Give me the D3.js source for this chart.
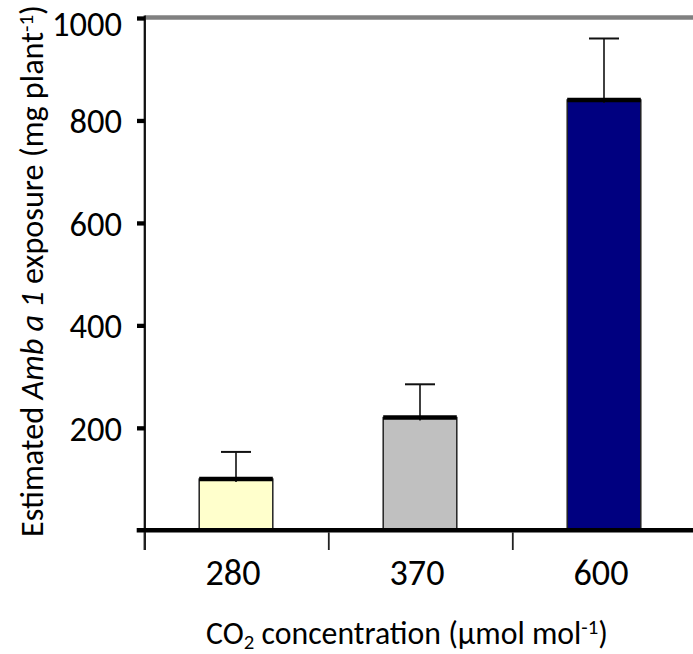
<!DOCTYPE html>
<html>
<head>
<meta charset="utf-8">
<script src="https://cdn.jsdelivr.net/npm/d3@7"></script>
<style>
  html, body { margin: 0; padding: 0; background: #fff; }
  svg { display: block; font-family: Carlito, Lato, "Open Sans", sans-serif; }
</style>
</head>
<body>
<svg id="chart" width="693" height="654"></svg>
<script>
// ---- data ----
const categories = ["280", "370", "600"];
const means = [100, 220, 840];
const upperErr = [153, 285, 960];
const barColors = ["#FFFFCC", "#C0C0C0", "#000080"];
const yTickValues = [200, 400, 600, 800, 1000];
const xTitle = { pre: "CO", sub: "2", mid: " concentration (µmol mol", sup: "-1", post: ")" };

// ---- layout ----
const W = 693, H = 654;
const FONT = "Carlito, Lato, 'Open Sans', sans-serif";
const svg = d3.select("#chart");
const x = d3.scaleBand().domain(categories).range([144, 696]).padding(0);
const y = d3.scaleLinear().domain([0, 1000]).range([530.3, 18]);
const barW = x.bandwidth() * 0.4;

// helper: measure a string's width at a given size
const probe = svg.append("text").attr("font-family", FONT).attr("visibility", "hidden");
function widthAt(str, size) {
  probe.attr("font-size", size).text(str);
  return probe.node().getComputedTextLength();
}
const yTickSize = 30 * 70 / widthAt("1000", 30);
const xTickSize = 30 * 55 / widthAt("280", 30);
probe.remove();

// top gray line (plot area top border)
svg.append("line")
  .attr("x1", 145).attr("x2", W).attr("y1", y(1000) - 0.5).attr("y2", y(1000) - 0.5)
  .attr("stroke", "#808080").attr("stroke-width", 4.5);

// bars
const bars = categories.map((c, i) => ({ c, m: means[i], u: upperErr[i], col: barColors[i] }));
const g = svg.append("g");
g.selectAll("rect.bar").data(bars).join("rect")
  .attr("class", "bar")
  .attr("x", d => x(d.c) + x.bandwidth() / 2 - barW / 2)
  .attr("width", barW)
  .attr("y", d => y(d.m))
  .attr("height", d => y(0) - y(d.m))
  .attr("fill", d => d.col)
  .attr("stroke", "#222").attr("stroke-width", 1.5);

// error bars
g.selectAll("line.err").data(bars).join("line")
  .attr("x1", d => x(d.c) + x.bandwidth() / 2).attr("x2", d => x(d.c) + x.bandwidth() / 2)
  .attr("y1", d => y(d.m) + 3).attr("y2", d => y(d.u))
  .attr("stroke", "#111").attr("stroke-width", 1.6);
g.selectAll("line.cap").data(bars).join("line")
  .attr("x1", d => x(d.c) + x.bandwidth() / 2 - 15).attr("x2", d => x(d.c) + x.bandwidth() / 2 + 15)
  .attr("y1", d => y(d.u)).attr("y2", d => y(d.u))
  .attr("stroke", "#111").attr("stroke-width", 2);

// thick mean lines on bar tops
g.selectAll("line.mean").data(bars).join("line")
  .attr("x1", d => x(d.c) + x.bandwidth() / 2 - barW / 2).attr("x2", d => x(d.c) + x.bandwidth() / 2 + barW / 2)
  .attr("y1", d => y(d.m)).attr("y2", d => y(d.m))
  .attr("stroke", "#000").attr("stroke-width", 4.5);

// y axis line
svg.append("line")
  .attr("x1", 144.8).attr("x2", 144.8).attr("y1", y(1000) - 2.5).attr("y2", 550)
  .attr("stroke", "#111").attr("stroke-width", 2.3);

// y axis ticks + labels
const yAxis = d3.axisLeft(y).tickValues(yTickValues).tickSize(8).tickPadding(15).tickFormat(d3.format("d"));
const yg = svg.append("g").attr("transform", "translate(145,0)").call(yAxis);
yg.select(".domain").remove();
yg.selectAll(".tick line").attr("stroke", "#000").attr("stroke-width", 4.3);
yg.selectAll(".tick text").attr("font-size", yTickSize).attr("fill", "#000")
  .attr("font-family", FONT).attr("dy", d => d === 1000 ? "0.5em" : "0.36em");

// x axis baseline
svg.append("line")
  .attr("x1", 136.7).attr("x2", W).attr("y1", y(0)).attr("y2", y(0))
  .attr("stroke", "#000").attr("stroke-width", 4.4);

// x boundary ticks
svg.append("g").selectAll("line").data(categories).join("line")
  .attr("x1", d => x(d) + 0.8).attr("x2", d => x(d) + 0.8)
  .attr("y1", y(0) + 2).attr("y2", 550)
  .attr("stroke", "#222").attr("stroke-width", 1.8);

// x labels
const xAxis = d3.axisBottom(x).tickSize(0).tickPadding(0);
const xg = svg.append("g").attr("transform", "translate(-3,585)").call(xAxis);
xg.select(".domain").remove();
xg.selectAll(".tick text").attr("font-size", xTickSize).attr("fill", "#000").attr("dy", 0).attr("y", 0)
  .attr("font-family", FONT);

function fit(sel, base, target) {
  const w = sel.node().getComputedTextLength();
  const k = target / w;
  sel.attr("font-size", base * k);
  sel.selectAll("tspan").each(function () {
    const fs = d3.select(this).attr("font-size");
    if (fs) d3.select(this).attr("font-size", fs * k);
  });
}

// x title
const xt = svg.append("text").attr("y", 644).attr("font-size", 26).attr("fill", "#000");
xt.append("tspan").text(xTitle.pre);
xt.append("tspan").attr("font-size", 17).attr("dy", 5).text(xTitle.sub);
xt.append("tspan").attr("dy", -5).text(xTitle.mid);
xt.append("tspan").attr("font-size", 17).attr("dy", -10).text(xTitle.sup);
xt.append("tspan").attr("dy", 10).text(xTitle.post);
fit(xt, 26, 402);
const xw = xt.node().getComputedTextLength();
xt.attr("x", 407 - xw / 2);

// y title
const yt = svg.append("text").attr("transform", "translate(42.5,271) rotate(-90)")
  .attr("text-anchor", "middle").attr("font-size", 26).attr("fill", "#000");
yt.append("tspan").text("Estimated ");
yt.append("tspan").attr("font-style", "italic").text("Amb a 1");
yt.append("tspan").text(" exposure (mg plant");
yt.append("tspan").attr("font-size", 17).attr("dy", -10).text("-1");
yt.append("tspan").attr("dy", 10).text(")");
fit(yt, 26, 532);
</script>
</body>
</html>
